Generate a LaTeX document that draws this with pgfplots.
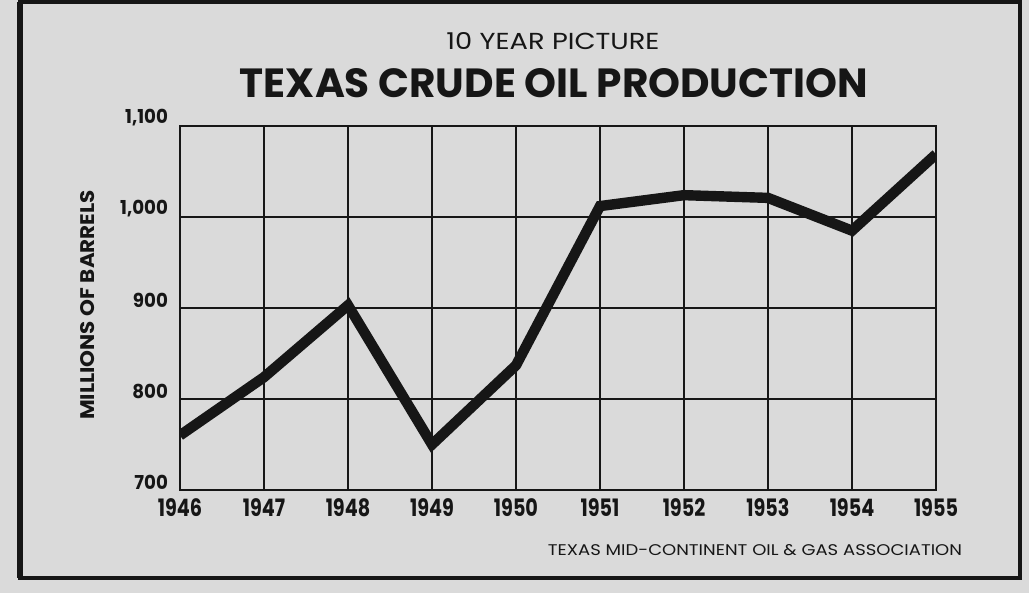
\documentclass[border=0pt]{standalone}
\usepackage{pgfplots}
\pgfplotsset{compat=1.18}
\usepackage{fontspec}
\setmainfont{Poppins}
\definecolor{bg}{RGB}{218,218,218}
\definecolor{ink}{RGB}{22,22,22}
\newcommand{\XL}[1]{\scalebox{0.80}[1]{\fontsize{12}{12}\selectfont\bfseries #1}}
\newcommand{\YL}[1]{\scalebox{0.95}[1]{\fontsize{9.6}{10}\selectfont\bfseries #1}}
\begin{document}
\begin{tikzpicture}[x=0.5pt,y=0.5pt]
\useasboundingbox (0,0) rectangle (1029,593);
\fill[bg] (0,0) rectangle (1029,593);
\draw[ink, line width=2.3pt] (20,15) rectangle (1020,591);
\draw[ink, line width=2.6pt] (20,15) -- (20,591);
\begin{axis}[
  at={(90pt,51.5pt)}, anchor=south west,
  scale only axis, width=378pt, height=182pt,
  xmin=1946, xmax=1955, ymin=700, ymax=1100,
  xtick={1946,1947,1948,1949,1950,1951,1952,1953,1954,1955},
  xticklabels={\XL{1946},\XL{1947},\XL{1948},\XL{1949},\XL{1950},\XL{1951},\XL{1952},\XL{1953},\XL{1954},\XL{1955}},
  ytick={700,800,900,1000,1100},
  yticklabels={\YL{700},\YL{800},\YL{900},\YL{1,000},\YL{1,100}},
  major tick length=0pt,
  xmajorgrids, ymajorgrids,
  grid style={ink, line width=1pt},
  axis line style={ink, line width=1.1pt},
  xticklabel style={ink, yshift=-1pt},
  yticklabel style={ink, yshift=4pt, xshift=-2.5pt},
  axis background/.style={fill=bg},
]
\addplot[ink, line width=5.2pt] coordinates {
(1946,760) (1947,824) (1948,903) (1949,750) (1950,837)
(1951,1012) (1952,1024) (1953,1021) (1954,985) (1955,1069)
};
\end{axis}
\node[rotate=90, ink, inner sep=0pt] at (88,288) {\resizebox{115pt}{7pt}{\bfseries MILLIONS OF BARRELS}};
\node[anchor=base, ink, inner sep=0pt] at (553,543) {\resizebox{106.5pt}{8.5pt}{\fontsize{10}{10}\selectfont 10 YEAR PICTURE}};
\node[anchor=base, ink, inner sep=0pt] at (554,495) {\resizebox{314pt}{14.5pt}{\fontsize{20}{20}\selectfont\bfseries TEXAS CRUDE OIL PRODUCTION}};
\node[anchor=base, ink, inner sep=0pt] at (755,37) {\resizebox{207pt}{5.5pt}{\fontsize{8}{8}\selectfont TEXAS MID-CONTINENT OIL \& GAS ASSOCIATION}};
\end{tikzpicture}
\end{document}
